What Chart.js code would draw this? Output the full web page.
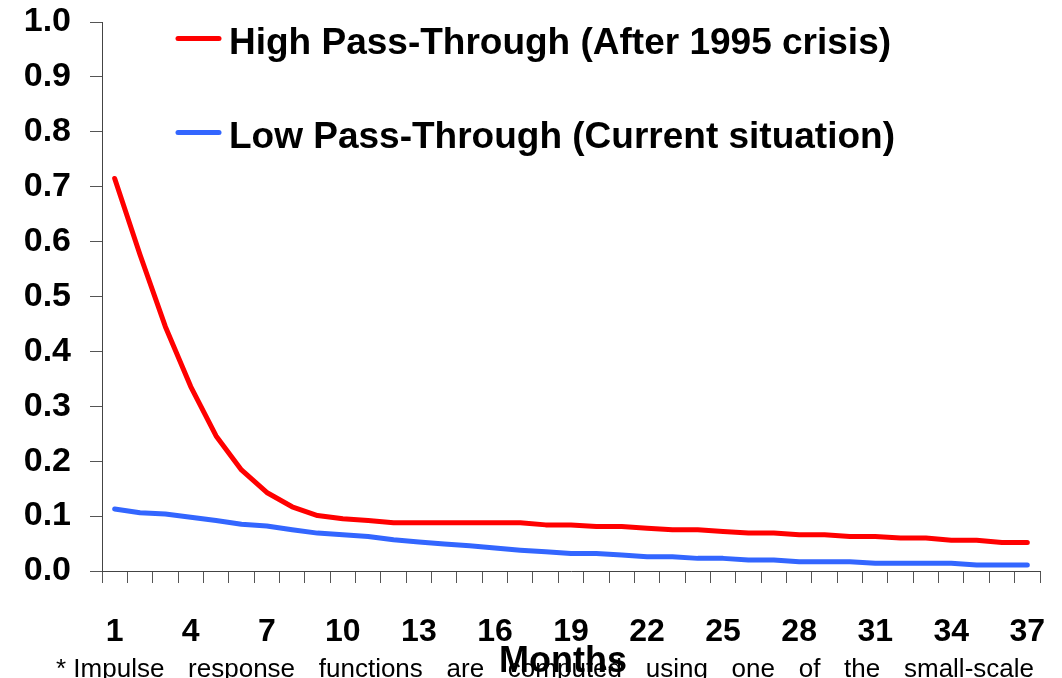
<!DOCTYPE html>
<html>
<head>
<meta charset="utf-8">
<script src="https://cdn.jsdelivr.net/npm/chart.js@4"></script>
<style>
  html, body { margin: 0; padding: 0; background: #ffffff; }
  #wrap { width: 1062px; height: 678px; }
</style>
</head>
<body>
<div id="wrap"><canvas id="c" width="1062" height="678"></canvas></div>
<script>
const months = Array.from({length: 37}, (_, i) => String(i + 1));
const highPassThrough = [0.715, 0.576, 0.445, 0.336, 0.246, 0.184, 0.143, 0.117, 0.101, 0.095,
  0.092, 0.088, 0.088, 0.088, 0.088, 0.088, 0.088, 0.084, 0.084, 0.081,
  0.081, 0.078, 0.075, 0.075, 0.072, 0.069, 0.069, 0.066, 0.066, 0.063,
  0.063, 0.060, 0.060, 0.056, 0.056, 0.052, 0.052];
const lowPassThrough = [0.113, 0.106, 0.104, 0.098, 0.092, 0.085, 0.082, 0.075, 0.069, 0.066,
  0.063, 0.057, 0.053, 0.049, 0.046, 0.042, 0.038, 0.035, 0.032, 0.032,
  0.029, 0.026, 0.026, 0.023, 0.023, 0.020, 0.020, 0.017, 0.017, 0.017,
  0.014, 0.014, 0.014, 0.014, 0.011, 0.011, 0.011];
const seriesLabels = ['High Pass-Through (After 1995 crisis)', 'Low Pass-Through (Current situation)'];
const xTitle = 'Months';
const footnoteWords = ['* Impulse', 'response', 'functions', 'are', 'computed', 'using', 'one', 'of', 'the', 'small-scale'];

const FONT = 'Arial, "Liberation Sans", sans-serif';

const legendPlugin = {
  id: 'customLegend',
  afterDraw(chart) {
    const ctx = chart.ctx;
    ctx.save();
    const rows = [38.5, 132.5];
    chart.data.datasets.forEach((ds, i) => {
      const y = rows[i];
      ctx.strokeStyle = ds.borderColor;
      ctx.lineWidth = 5;
      ctx.lineCap = 'round';
      ctx.beginPath();
      ctx.moveTo(178, y);
      ctx.lineTo(219, y);
      ctx.stroke();
      ctx.fillStyle = '#000';
      ctx.font = 'bold 37px ' + FONT;
      ctx.textBaseline = 'alphabetic';
      ctx.textAlign = 'left';
      ctx.fillText(ds.label, 229, y + 15.5);
    });
    ctx.restore();
  }
};

const textPlugin = {
  id: 'bottomTexts',
  afterDraw(chart) {
    const ctx = chart.ctx;
    ctx.save();
    ctx.font = '26px ' + FONT;
    ctx.fillStyle = '#000';
    ctx.textBaseline = 'alphabetic';
    ctx.textAlign = 'left';
    const left = 56, right = 1034;
    const total = footnoteWords.reduce((s, w) => s + ctx.measureText(w).width, 0);
    const gap = (right - left - total) / (footnoteWords.length - 1);
    let x = left;
    footnoteWords.forEach(w => {
      ctx.fillText(w, x, 677);
      x += ctx.measureText(w).width + gap;
    });
    ctx.font = 'bold 36px ' + FONT;
    ctx.textAlign = 'center';
    ctx.fillText(xTitle, 563, 672);
    ctx.restore();
  }
};

new Chart(document.getElementById('c'), {
  type: 'line',
  data: {
    labels: months,
    datasets: [
      { label: seriesLabels[0], data: highPassThrough, borderColor: '#ff0000', borderWidth: 5,
        pointRadius: 0, tension: 0, fill: false, borderCapStyle: 'round', borderJoinStyle: 'round' },
      { label: seriesLabels[1], data: lowPassThrough, borderColor: '#3366ff', borderWidth: 5,
        pointRadius: 0, tension: 0, fill: false, borderCapStyle: 'round', borderJoinStyle: 'round' }
    ]
  },
  options: {
    responsive: false,
    animation: false,
    layout: { padding: { top: 22, right: 22, left: 0, bottom: 0 } },
    plugins: { legend: { display: false }, tooltip: { enabled: false } },
    scales: {
      x: {
        type: 'category',
        offset: true,
        grid: { display: true, offset: true, drawOnChartArea: false, drawTicks: true, tickLength: 12, color: '#555', lineWidth: 1 },
        border: { display: true, color: '#444', width: 1 },
        ticks: {
          autoSkip: false, maxRotation: 0, minRotation: 0, padding: 30, color: '#000',
          font: { family: FONT, size: 32, weight: 'bold' },
          callback: function(v, i) { return i % 3 === 0 ? this.getLabelForValue(v) : ''; }
        },
        afterFit(scale) { scale.height = 107; scale.paddingLeft = 0; scale.paddingRight = 0; }
      },
      y: {
        min: 0, max: 1,
        grid: { display: true, drawOnChartArea: false, drawTicks: true, tickLength: 12, color: '#555', lineWidth: 1 },
        border: { display: true, color: '#444', width: 1 },
        ticks: {
          stepSize: 0.1, padding: 19, color: '#000',
          font: { family: FONT, size: 34, weight: 'bold' },
          callback: v => v.toFixed(1)
        },
        afterFit(scale) { scale.width = 102; scale.paddingTop = 0; scale.paddingBottom = 0; }
      }
    }
  },
  plugins: [legendPlugin, textPlugin]
});
</script>
</body>
</html>
